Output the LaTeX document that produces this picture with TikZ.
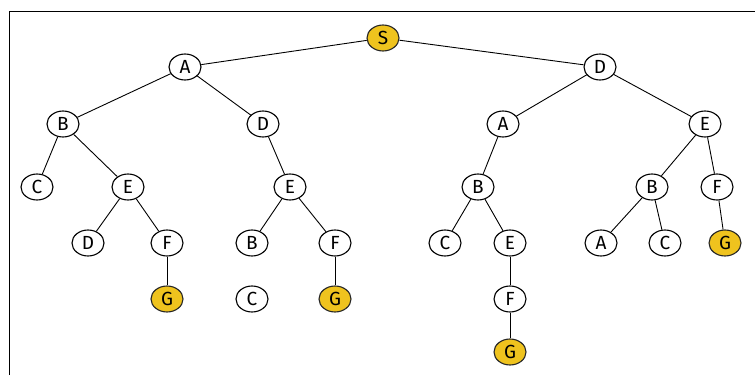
\documentclass[tikz,border=0pt]{standalone}
\usepackage{fontspec}
\setmainfont{Fira Sans}
\usetikzlibrary{shapes.geometric}
\definecolor{goalfill}{HTML}{EFC31E}
\begin{document}
\begin{tikzpicture}[x=1pt,y=-1pt,
  st/.style={ellipse,draw=black,line width=1.1pt,fill=white,
    minimum width=32pt,minimum height=26pt,inner sep=0pt,
    font=\fontsize{19}{19}\selectfont},
  goal/.style={st,fill=goalfill,draw=black!85},
  edge/.style={line width=0.9pt,black}]
\useasboundingbox (0,0) rectangle (755,375);
\fill[white] (0,0) rectangle (755,375);
% frame
\draw[line width=1pt] (9,375) -- (9,11) -- (755,11);

% level 0
\node[goal] (s) at (383,38) {S};
% level 1
\node[st] (a1) at (185,67) {A};
\node[st] (d1) at (600,67) {D};
% level 2
\node[st] (b2) at (63,124) {B};
\node[st] (d2) at (263,124) {D};
\node[st] (a2) at (503,124) {A};
\node[st] (e2) at (705,124) {E};
% level 3
\node[st] (c3) at (37,187) {C};
\node[st] (e3a) at (128,187) {E};
\node[st] (e3b) at (290,187) {E};
\node[st] (b3a) at (478,187) {B};
\node[st] (b3b) at (652,187) {B};
\node[st] (f3) at (717,187) {F};
% level 4
\node[st] (d4) at (88,243) {D};
\node[st] (f4a) at (167,243) {F};
\node[st] (b4) at (252,243) {B};
\node[st] (f4b) at (335,243) {F};
\node[st] (c4a) at (445,243) {C};
\node[st] (e4) at (510,243) {E};
\node[st] (a4) at (601,243) {A};
\node[st] (c4b) at (665,243) {C};
\node[goal] (g4) at (725,243) {G};
% level 5
\node[goal] (g5a) at (167,299) {G};
\node[st] (c5) at (252,299) {C};
\node[goal] (g5b) at (335,299) {G};
\node[st] (f5) at (510,299) {F};
% level 6
\node[goal] (g6) at (510,352) {G};

% connectors
\draw[edge] (s) -- (a1);
\draw[edge] (s) -- (d1);
\draw[edge] (a1) -- (b2);
\draw[edge] (a1) -- (d2);
\draw[edge] (d1) -- (a2);
\draw[edge] (d1) -- (e2);
\draw[edge] (b2) -- (c3);
\draw[edge] (b2) -- (e3a);
\draw[edge] (d2) -- (e3b);
\draw[edge] (a2) -- (b3a);
\draw[edge] (e2) -- (b3b);
\draw[edge] (e2) -- (f3);
\draw[edge] (e3a) -- (d4);
\draw[edge] (e3a) -- (f4a);
\draw[edge] (e3b) -- (b4);
\draw[edge] (e3b) -- (f4b);
\draw[edge] (b3a) -- (c4a);
\draw[edge] (b3a) -- (e4);
\draw[edge] (b3b) -- (a4);
\draw[edge] (b3b) -- (c4b);
\draw[edge] (f3) -- (g4);
\draw[edge] (f4a) -- (g5a);
\draw[edge] (f4b) -- (g5b);
\draw[edge] (e4) -- (f5);
\draw[edge] (f5) -- (g6);
\end{tikzpicture}
\end{document}
